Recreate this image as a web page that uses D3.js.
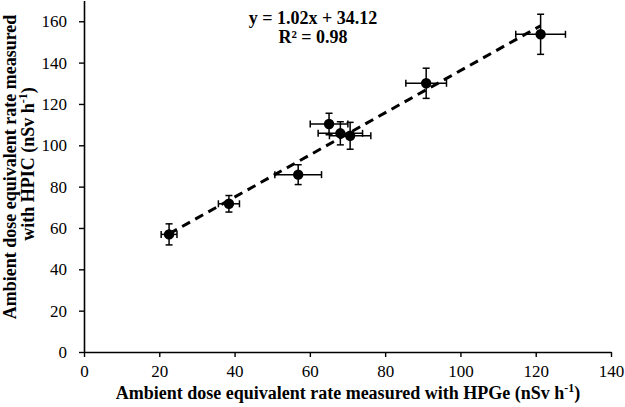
<!DOCTYPE html>
<html>
<head>
<meta charset="utf-8">
<script src="https://cdn.jsdelivr.net/npm/d3@7"></script>
<style>
  html, body { margin: 0; padding: 0; background: #fff; }
  svg { display: block; font-family: "Liberation Serif", "Times New Roman", serif; }
</style>
</head>
<body>
<svg id="chart" width="625" height="407"></svg>
<script>
// Data
const hpge   = [22.6, 38.5, 56.9, 65.1, 68.1, 70.7, 90.9, 121.3];
const hpic   = [56.9, 71.7, 85.8, 110.3, 105.8, 104.6, 130.0, 153.7];
const hpgeErr = [2.1, 2.8, 6.2, 5.0, 5.9, 5.5, 5.4, 6.6];
const hpicErr = [5.1, 4.0, 4.8, 5.2, 5.6, 6.5, 7.3, 9.7];
const xTicks = [0, 20, 40, 60, 80, 100, 120, 140];
const yTicks = [0, 20, 40, 60, 80, 100, 120, 140, 160];
const slope = 1.02, intercept = 34.12;
const eqLabels = ["y = 1.02x + 34.12", "R² = 0.98"];

const FONT = '"Liberation Serif", "Times New Roman", serif';
const svg = d3.select("#chart");
const x = d3.scaleLinear().domain([0, 140]).range([84, 611]);
const y = d3.scaleLinear().domain([0, 170]).range([352, 0.6]);

// Axes
const xAxis = svg.append("g").attr("transform", `translate(0,${y(0)})`)
  .call(d3.axisBottom(x).tickValues(xTicks).tickSize(5).tickSizeOuter(0).tickPadding(8));
const yAxis = svg.append("g").attr("transform", `translate(${x(0)},0)`)
  .call(d3.axisLeft(y).tickValues(yTicks).tickSize(5).tickSizeOuter(0).tickPadding(12));
[xAxis, yAxis].forEach(g => {
  g.attr("font-family", FONT).attr("font-size", 17);
  g.select(".domain").attr("stroke", "#000").attr("stroke-width", 1.6);
  g.selectAll(".tick line").attr("stroke", "#000").attr("stroke-width", 1.4);
  g.selectAll(".tick text").attr("fill", "#000");
});

// Trend line
const x0 = d3.min(hpge), x1 = d3.max(hpge);
svg.append("line")
  .attr("x1", x(x0)).attr("y1", y(slope * x0 + intercept))
  .attr("x2", x(x1)).attr("y2", y(slope * x1 + intercept))
  .attr("stroke", "#000").attr("stroke-width", 3)
  .attr("stroke-dasharray", "9,6");

// Error bars
const pts = hpge.map((v, i) => ({ x: v, y: hpic[i], ex: hpgeErr[i], ey: hpicErr[i] }));
const cap = 3.5;
const eb = svg.append("g").attr("stroke", "#000").attr("stroke-width", 1.5);
pts.forEach(p => {
  const cx = x(p.x), cy = y(p.y);
  const xl = x(p.x - p.ex), xr = x(p.x + p.ex);
  const yt = y(p.y + p.ey), yb = y(p.y - p.ey);
  eb.append("line").attr("x1", xl).attr("x2", xr).attr("y1", cy).attr("y2", cy);
  eb.append("line").attr("x1", xl).attr("x2", xl).attr("y1", cy - cap).attr("y2", cy + cap);
  eb.append("line").attr("x1", xr).attr("x2", xr).attr("y1", cy - cap).attr("y2", cy + cap);
  eb.append("line").attr("x1", cx).attr("x2", cx).attr("y1", yt).attr("y2", yb);
  eb.append("line").attr("x1", cx - cap).attr("x2", cx + cap).attr("y1", yt).attr("y2", yt);
  eb.append("line").attr("x1", cx - cap).attr("x2", cx + cap).attr("y1", yb).attr("y2", yb);
});

// Markers
svg.append("g").selectAll("circle").data(pts).join("circle")
  .attr("cx", d => x(d.x)).attr("cy", d => y(d.y)).attr("r", 5.2)
  .attr("fill", "#000");

// Equation
svg.append("text").attr("x", 313).attr("y", 24).attr("text-anchor", "middle")
  .attr("font-size", 18).attr("font-weight", "bold").text(eqLabels[0]);
svg.append("text").attr("x", 313).attr("y", 43).attr("text-anchor", "middle")
  .attr("font-size", 18).attr("font-weight", "bold").text(eqLabels[1]);

// X axis title
const xt = svg.append("text").attr("x", 348).attr("y", 399).attr("text-anchor", "middle")
  .attr("font-size", 18).attr("font-weight", "bold");
xt.append("tspan").text("Ambient dose equivalent rate measured with HPGe (nSv h");
xt.append("tspan").attr("dy", -7).attr("font-size", 12).text("-1");
xt.append("tspan").attr("dy", 7).text(")");

// Y axis title (two lines)
svg.append("text").attr("transform", "translate(16,167) rotate(-90)")
  .attr("text-anchor", "middle").attr("font-size", 18).attr("font-weight", "bold")
  .text("Ambient dose equivalent rate measured");
const yt2 = svg.append("text").attr("transform", "translate(34,164) rotate(-90)")
  .attr("text-anchor", "middle").attr("font-size", 18).attr("font-weight", "bold");
yt2.append("tspan").text("with HPIC (nSv h");
yt2.append("tspan").attr("dy", -7).attr("font-size", 12).text("-1");
yt2.append("tspan").attr("dy", 7).text(")");
</script>
</body>
</html>
